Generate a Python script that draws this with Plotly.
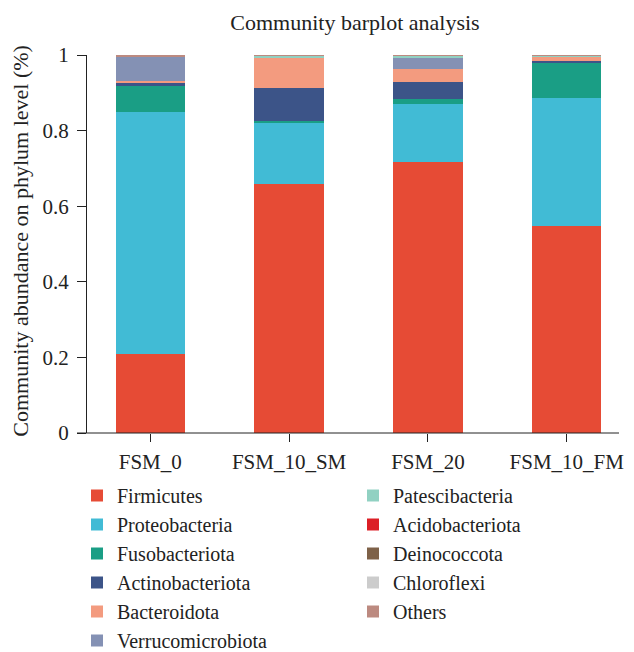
import plotly.graph_objects as go

samples = ["FSM_0", "FSM_10_SM", "FSM_20", "FSM_10_FM"]

phyla = ["Firmicutes", "Proteobacteria", "Fusobacteriota", "Actinobacteriota",
         "Bacteroidota", "Verrucomicrobiota", "Patescibacteria", "Acidobacteriota",
         "Deinococcota", "Chloroflexi", "Others"]

colors = ["#E64B35", "#41BBD5", "#1A9E85", "#3C5488", "#F39B7F", "#8491B4",
          "#91D1C2", "#DC1F26", "#7E6148", "#CCCCCC", "#BC8A80"]

firmicutes        = [0.208, 0.658, 0.717, 0.547]
proteobacteria    = [0.641, 0.164, 0.153, 0.340]
fusobacteriota    = [0.068, 0.003, 0.013, 0.093]
actinobacteriota  = [0.009, 0.087, 0.045, 0.005]
bacteroidota      = [0.004, 0.081, 0.034, 0.011]
verrucomicrobiota = [0.066, 0.0005, 0.032, 0.001]
patescibacteria   = [0.0005, 0.0045, 0.004, 0.001]
acidobacteriota   = [0.0003, 0.0002, 0.0003, 0.0002]
deinococcota      = [0.0002, 0.0002, 0.0003, 0.0002]
chloroflexi       = [0.0002, 0.0002, 0.0002, 0.0002]
others            = [0.0028, 0.0014, 0.0012, 0.0014]

series = [firmicutes, proteobacteria, fusobacteriota, actinobacteriota, bacteroidota,
          verrucomicrobiota, patescibacteria, acidobacteriota, deinococcota,
          chloroflexi, others]

FONT = "Liberation Serif"
FS = 21
LFS = 20
INK = "#222"

fig = go.Figure()
for i, (name, vals, col) in enumerate(zip(phyla, series, colors)):
    fig.add_trace(go.Bar(
        x=samples, y=vals, name=name, marker_color=col, marker_line_width=0,
        width=0.5,
        legend="legend" if i < 6 else "legend2",
    ))

# page body has an 8px margin, so the figure is laid out 8px smaller
W, H = 626, 644
ml, mr, mt, mb = 79, 15, 47, 219
pw = W - ml - mr
ph = H - mt - mb

legend_common = dict(
    font=dict(family=FONT, size=LFS, color=INK),
    orientation="v", yanchor="top", xanchor="left",
    xref="container", yref="container", traceorder="normal",
    bgcolor="rgba(0,0,0,0)", itemclick=False,
)

fig.update_layout(
    width=W, height=H,
    margin=dict(l=ml, r=mr, t=mt, b=mb, autoexpand=False),
    barmode="stack",
    plot_bgcolor="white", paper_bgcolor="white",
    font=dict(family=FONT, size=FS, color=INK),
    title=dict(text="Community barplot analysis", font=dict(family=FONT, size=22, color=INK),
               x=(347 - ml) / pw, xref="paper", xanchor="center",
               y=1 - 14 / H, yref="container", yanchor="middle"),
    xaxis=dict(range=[-0.4557, 3.3765], showline=False,
               ticks="outside", ticklen=8, tickcolor=INK, showgrid=False,
               ticklabelstandoff=2,
               tickfont=dict(family=FONT, size=FS, color=INK), zeroline=False),
    yaxis=dict(range=[0, 1],
               showline=True, linecolor=INK, linewidth=1,
               ticks="outside", ticklen=9, tickcolor=INK, showgrid=False, zeroline=False,
               ticklabelstandoff=4,
               tickvals=[0, 0.2, 0.4, 0.6, 0.8, 1], ticktext=["0", "0.2", "0.4", "0.6", "0.8", "1"],
               tickfont=dict(family=FONT, size=FS, color=INK)),
    annotations=[dict(text="Community abundance on phylum level (%)", textangle=-90,
                      xref="paper", yref="paper", x=(13 - ml) / pw, y=(425.3 - 233) / ph,
                      xanchor="center", yanchor="middle", showarrow=False,
                      font=dict(family=FONT, size=22, color=INK))],
    shapes=[dict(type="line", xref="paper", yref="paper", x0=-10 / pw, x1=1, y0=0, y1=0,
                 line=dict(color=INK, width=1), layer="above")],
    legend=dict(x=69 / W, y=1 - 468 / H, **legend_common),
    legend2=dict(x=345 / W, y=1 - 468 / H, **legend_common),
    showlegend=True,
)

fig.write_html("out.html")
